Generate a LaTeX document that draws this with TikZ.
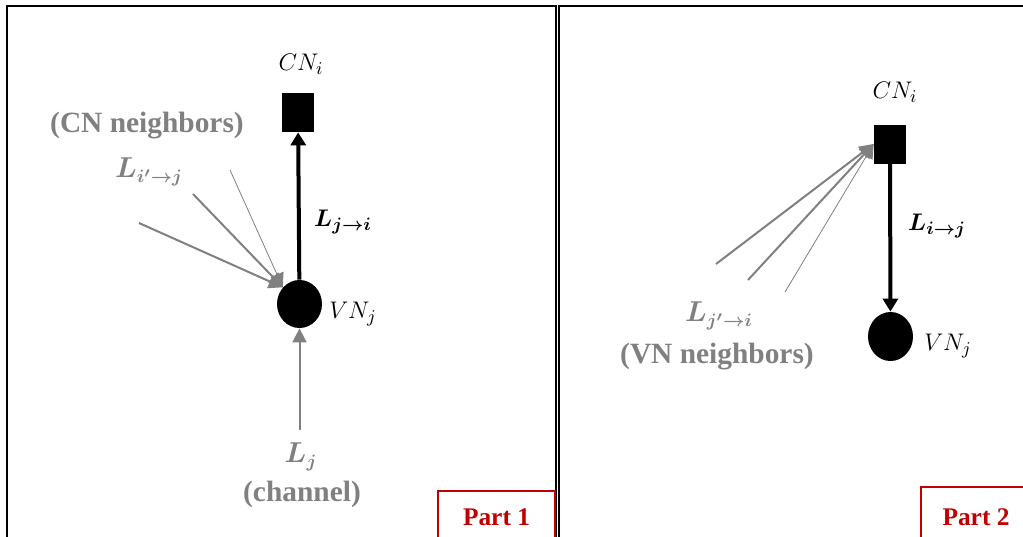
\documentclass[tikz,border=0pt]{standalone}
\usepackage{fontspec}
\setmainfont{Liberation Serif}
\usepackage{amsmath}
\usetikzlibrary{shapes,positioning,arrows.meta}
\definecolor{msggray}{RGB}{128,128,128}
\definecolor{partred}{RGB}{192,0,0}

\begin{document}
\begin{tikzpicture}
  [x=0.5pt,y=-0.5pt,
   font=\fontsize{13}{15.6}\selectfont,
   frameN/.style={draw,line width=1pt},
   checkN/.style={rectangle,fill,inner sep=0pt,minimum width=16pt,minimum height=19.5pt},
   varN/.style={ellipse,fill,inner sep=0pt,minimum width=22.5pt,minimum height=24pt},
   msgA/.style={-{Triangle[width=7.5pt,length=6.5pt]},line width=2pt},
   nbrA/.style={-{Triangle[width=7pt,length=7pt]},msggray,line width=1pt},
   nbrT/.style={nbrA,line width=0.4pt},
   grayT/.style={msggray,font=\fontsize{14.7}{17}\selectfont\bfseries\boldmath},
   grayM/.style={msggray,font=\fontsize{13.5}{16}\selectfont\boldmath},
   partN/.style={draw=partred,text=partred,line width=0.6pt,
                 font=\fontsize{12.7}{15}\selectfont\bfseries},
  ]
 \useasboundingbox (0,0) rectangle (1023,536);

 \draw[frameN] (7,6)   rectangle (556,560);
 \draw[frameN] (559,6) rectangle (1040,560);

 % Part 1
 \node[checkN] (cnA) at (298,112.5) {};
 \node[varN]   (vnA) at (299.5,304) {};
 \coordinate (chA) at (299.5,430);
 \coordinate (nA1) at (139,223);
 \coordinate (nA2) at (193,194);
 \coordinate (nA3) at (230,170);

 \node (cnAlbl)  at (301,64)  {$CN_i$};
 \node (ljiA)    at (343,222) {$\boldsymbol{L_{j\rightarrow i}}$};
 \node (vnAlbl)  at (353,314) {$VN_j$};
 \node[grayT] (cnNbr) at (147,126) {(CN neighbors)};
 \node[grayM] (lipA)  at (149,172) {$L_{i'\rightarrow j}$};
 \node[grayM] (ljA)   at (301,457) {$L_{j}$};
 \node[grayT] (chanA) at (302,494) {(channel)};
 \node[partN,minimum width=58.5pt,minimum height=26pt] (partA) at (496.5,517) {Part 1};

 \draw[msgA] (vnA) to (cnA);
 \draw[nbrA] (chA) to (vnA);
 \draw[nbrA] (nA1) to (vnA.135);
 \draw[nbrA] (nA2) to (vnA.135);
 \draw[nbrT] (nA3) to (vnA.135);

 % Part 2
 \node[checkN] (cnB) at (890,144) {};
 \node[varN,minimum height=24.5pt] (vnB) at (890.5,336.5) {};
 \coordinate (nB1) at (716,264);
 \coordinate (nB2) at (748,280);
 \coordinate (nB3) at (785,292);

 \node (cnBlbl)  at (895,92)  {$CN_i$};
 \node (lijB)    at (937,226) {$\boldsymbol{L_{i\rightarrow j}}$};
 \node (vnBlbl)  at (948,346) {$VN_j$};
 \node[grayM] (ljpB)  at (719,316) {$L_{j'\rightarrow i}$};
 \node[grayT] (vnNbr) at (717,357) {(VN neighbors)};
 \node[partN,minimum width=55pt,minimum height=30pt] (partB) at (976,517) {Part 2};

 \draw[msgA] (cnB) to (vnB);
 \draw[nbrA] (nB1) to (cnB.west);
 \draw[nbrA] (nB2) to (cnB.west);
 \draw[nbrT] (nB3) to (cnB.west);

\end{tikzpicture}
\end{document}
